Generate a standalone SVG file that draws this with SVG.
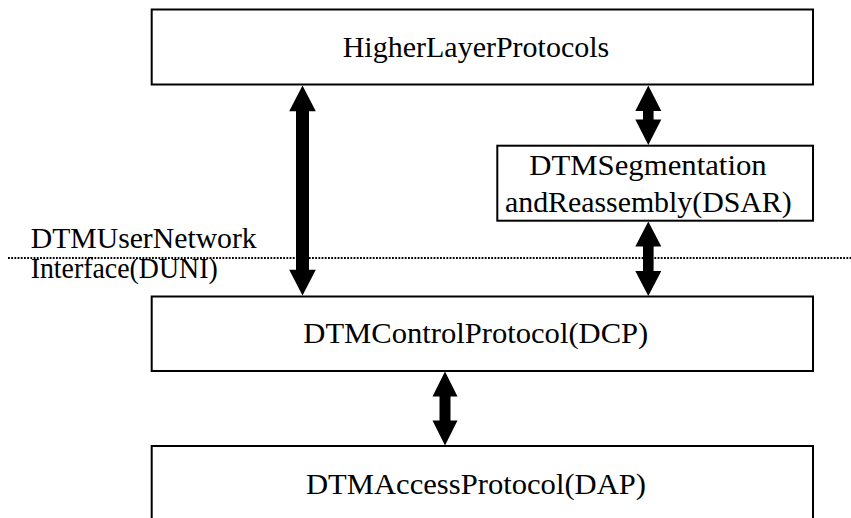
<svg xmlns="http://www.w3.org/2000/svg" width="851" height="518" viewBox="0 0 851 518">
  <style>
    .box { fill: #ffffff; stroke: #000000; stroke-width: 2; }
    .lbl { font-family: "Liberation Serif", "Times New Roman", serif; font-size: 29.5px; fill: #000000; }
    .arrow { fill: #000000; stroke: none; }
    .boundary { stroke: #000000; stroke-width: 1.8; stroke-dasharray: 1.8 1.4; fill: none; }
  </style>
  <rect width="851" height="518" fill="#ffffff"/>

  <!-- user/network boundary -->
  <g id="duni">
    <line class="boundary" x1="8" y1="258" x2="851" y2="258"/>
    <text class="lbl" x="30.7" y="248.3" textLength="226" lengthAdjust="spacingAndGlyphs">DTMUserNetwork</text>
    <text class="lbl" x="30.7" y="278.3" textLength="187" lengthAdjust="spacingAndGlyphs">Interface(DUNI)</text>
  </g>

  <g id="higher-layer">
    <rect class="box" x="151.7" y="9.5" width="661.3" height="75"/>
    <text class="lbl" x="342.7" y="56.7" textLength="266.6" lengthAdjust="spacingAndGlyphs">HigherLayerProtocols</text>
  </g>

  <g id="dsar">
    <rect class="box" x="497.3" y="145.7" width="315.7" height="75"/>
    <text class="lbl" x="529.3" y="175" textLength="237.4" lengthAdjust="spacingAndGlyphs">DTMSegmentation</text>
    <text class="lbl" x="505" y="211.7" textLength="286.7" lengthAdjust="spacingAndGlyphs">andReassembly(DSAR)</text>
  </g>

  <g id="dcp">
    <rect class="box" x="151.7" y="296.5" width="661.3" height="74.5"/>
    <text class="lbl" x="303.3" y="343.3" textLength="345" lengthAdjust="spacingAndGlyphs">DTMControlProtocol(DCP)</text>
  </g>

  <g id="dap">
    <path class="box" d="M151.7,520 V446 H813 V520"/>
    <text class="lbl" x="306" y="493.5" textLength="340" lengthAdjust="spacingAndGlyphs">DTMAccessProtocol(DAP)</text>
  </g>

  <!-- double-headed block arrows between layers -->
  <g id="connectors">
    <polygon class="arrow" points="302.5,85.5 315.8,111.2 309,111.2 309,269.8 315.8,269.8 302.5,295.5 289.2,269.8 296,269.8 296,111.2 289.2,111.2"/>
    <polygon class="arrow" points="648.3,85.5 661.3,111 653.6,111 653.6,119.5 661.3,119.5 648.3,145 635.3,119.5 643,119.5 643,111 635.3,111"/>
    <polygon class="arrow" points="648.3,221.5 661.3,246.5 653.6,246.5 653.6,271 661.3,271 648.3,296 635.3,271 643,271 643,246.5 635.3,246.5"/>
    <polygon class="arrow" points="445,371.5 457.5,396.5 450.5,396.5 450.5,420.5 457.5,420.5 445,445.5 432.5,420.5 439.5,420.5 439.5,396.5 432.5,396.5"/>
  </g>
</svg>
